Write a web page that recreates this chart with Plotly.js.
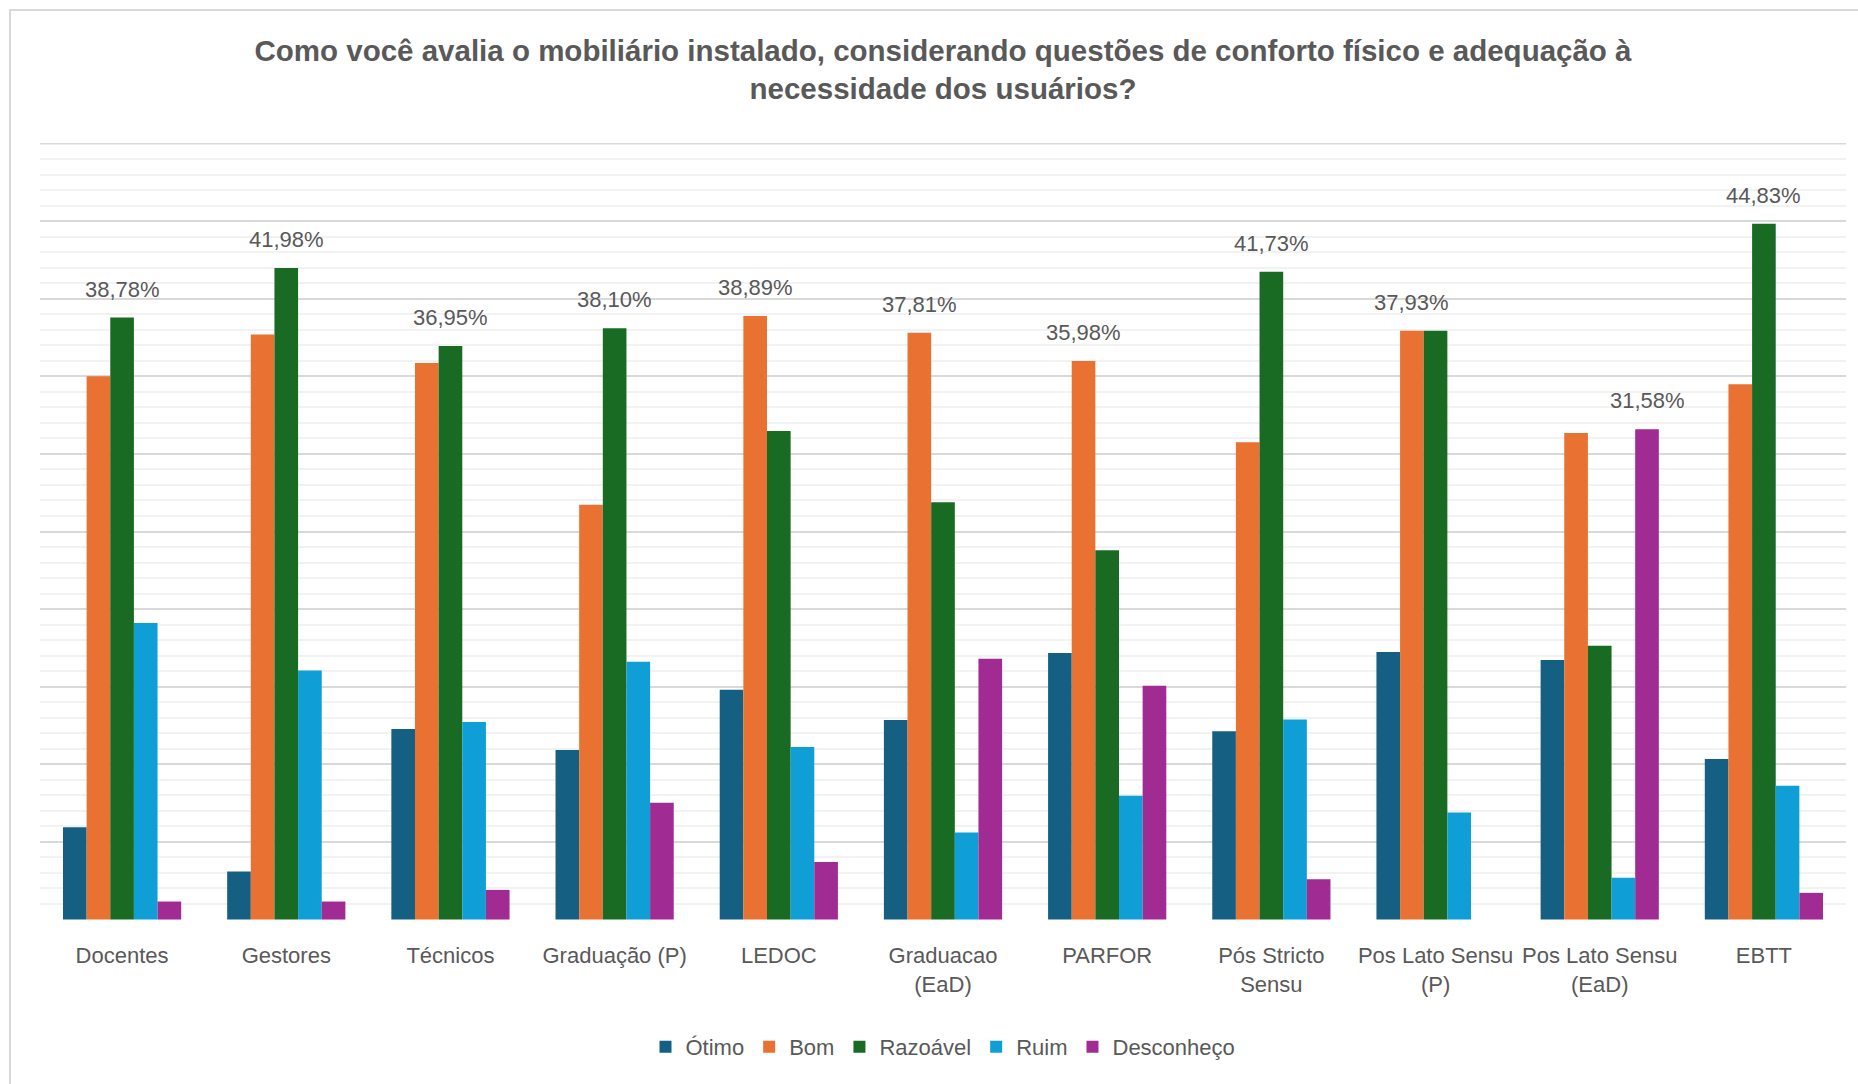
<!DOCTYPE html>
<html>
<head>
<meta charset="utf-8">
<script src="https://cdn.plot.ly/plotly-3.0.1.min.js"></script>
<style>
html,body{margin:0;padding:0;background:#fff;overflow:hidden;}
#wrap{position:relative;width:1858px;height:1084px;overflow:hidden;}
#chart{width:1858px;height:1084px;}
#frame{position:absolute;left:9px;top:9px;width:1870px;height:1100px;border:2px solid #d9d9d9;box-sizing:border-box;pointer-events:none;}
</style>
</head>
<body>
<div id="wrap"><div id="chart"></div><div id="frame"></div></div>
<script>
const categories = ["Docentes", "Gestores", "Técnicos", "Graduação (P)", "LEDOC", "Graduacao<br>(EaD)", "PARFOR", "Pós Stricto<br>Sensu", "Pos Lato Sensu<br>(P)", "Pos Lato Sensu<br>(EaD)", "EBTT"];
const seriesNames = ["Ótimo", "Bom", "Razoável", "Ruim", "Desconheço"];
const otimo      = [5.94, 3.09, 12.27, 10.93, 14.81, 12.85, 17.17, 12.13, 17.24, 16.72, 10.34];
const bom        = [35.00, 37.70, 35.85, 26.72, 38.89, 37.81, 35.98, 30.75, 37.93, 31.35, 34.48];
const razoavel   = [38.78, 41.98, 36.95, 38.10, 31.48, 26.88, 23.79, 41.73, 37.93, 17.64, 44.83];
const ruim       = [19.10, 16.05, 12.73, 16.61, 11.11, 5.60, 7.97, 12.88, 6.90, 2.70, 8.62];
const desconheco = [1.16, 1.16, 1.91, 7.52, 3.70, 16.80, 15.07, 2.59, 0, 31.58, 1.72];
const colors = ["#156082", "#E97132", "#196B24", "#0F9ED5", "#A02B93"];

const allSeries = [otimo, bom, razoavel, ruim, desconheco];
const BARGAP = 0.28;
const fontFam = "Liberation Sans, Arial, sans-serif";
const txtColor = "#595959";

const traces = allSeries.map((vals, k) => ({
  type: "bar",
  name: seriesNames[k],
  x: categories,
  y: vals,
  marker: {color: colors[k], line: {width: 0}},
  hoverinfo: "x+y+name"
}));

// label over the tallest bar of each category
const nS = allSeries.length;
const w = (1 - BARGAP) / nS;
const annotations = categories.map((c, i) => {
  let best = 0;
  for (let k = 1; k < nS; k++) if (allSeries[k][i] > allSeries[best][i]) best = k;
  const v = allSeries[best][i];
  return {
    x: i + (best - (nS - 1) / 2) * w,
    y: v,
    xref: "x", yref: "y",
    text: v.toFixed(2).replace(".", ",") + "%",
    showarrow: false,
    yanchor: "bottom",
    xanchor: "center",
    yshift: 14,
    font: {family: fontFam, size: 22, color: txtColor}
  };
});

// top gridline (50%) drawn explicitly so it is never dropped at the edge
const shapes = [{
  type: "line", xref: "paper", yref: "y",
  x0: 0, x1: 1, y0: 50, y1: 50,
  line: {color: "#d9d9d9", width: 2},
  layer: "below"
}];

const layout = {
  width: 1858,
  height: 1084,
  paper_bgcolor: "#ffffff",
  plot_bgcolor: "#ffffff",
  margin: {l: 40, r: 12, t: 142.5, b: 163.5},
  title: {
    text: "Como você avalia o mobiliário instalado, considerando questões de conforto físico e adequação à<br>necessidade dos usuários?",
    font: {family: fontFam, size: 29.5, color: txtColor, weight: 700},
    x: 0.5, xref: "paper", xanchor: "center",
    y: 1 - 61 / 1084, yref: "container", yanchor: "middle"
  },
  barmode: "group",
  bargap: BARGAP,
  bargroupgap: 0,
  xaxis: {
    type: "category",
    showgrid: false,
    showline: false,
    zeroline: false,
    ticks: "",
    ticklabelstandoff: 20,
    tickfont: {family: fontFam, size: 22, color: txtColor},
    fixedrange: true
  },
  yaxis: {
    range: [-0.03, 50.03],
    tick0: 0,
    dtick: 5,
    showticklabels: false,
    ticks: "",
    showgrid: true,
    gridcolor: "#d9d9d9",
    gridwidth: 2,
    zeroline: false,
    showline: false,
    minor: {tick0: 0, dtick: 1, showgrid: true, gridcolor: "#f2f2f2", gridwidth: 2, ticks: ""},
    fixedrange: true
  },
  showlegend: true,
  legend: {
    orientation: "h",
    x: 0.5, xanchor: "center",
    y: -0.1635, yanchor: "middle",
    font: {family: fontFam, size: 22, color: txtColor},
    itemwidth: 30,
    traceorder: "normal"
  },
  shapes: shapes,
  annotations: annotations
};

Plotly.newPlot("chart", traces, layout, {displayModeBar: false, staticPlot: true});
</script>
</body>
</html>
